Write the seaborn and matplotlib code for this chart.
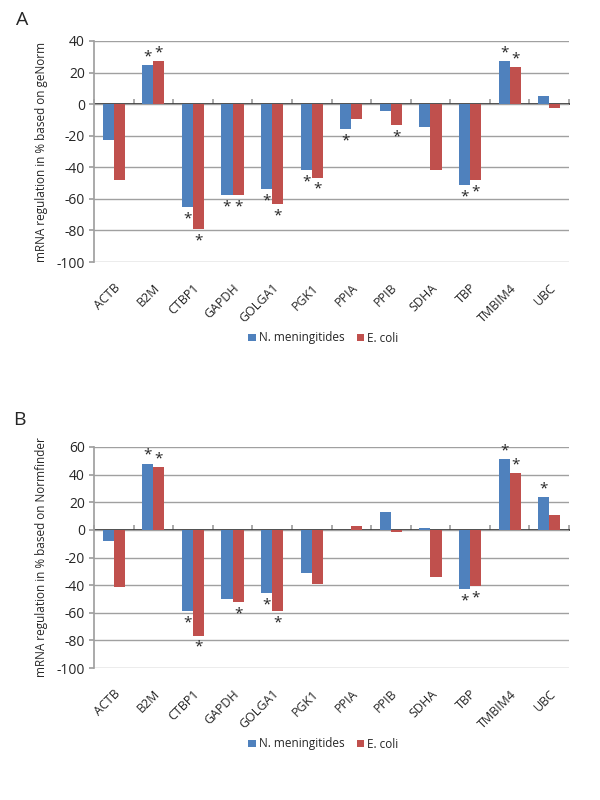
import numpy as np
import pandas as pd
import matplotlib
matplotlib.use("Agg")
import matplotlib.pyplot as plt
import seaborn as sns

genes = ["ACTB", "B2M", "CTBP1", "GAPDH", "GOLGA1", "PGK1", "PPIA", "PPIB",
         "SDHA", "TBP", "TMBIM4", "UBC"]
series_names = ["N. meningitides", "E. coli"]

a_nm = [-22.5, 24.5, -65, -57.5, -54, -42, -16, -4.5, -14.5, -51.5, 27.5, 5]
a_ec = [-48, 27.5, -79, -57.5, -63.5, -46.5, -9.5, -13.5, -42, -48, 23.5, -2.5]
a_star_nm = [0, 1, 1, 1, 1, 1, 1, 0, 0, 1, 1, 0]
a_star_ec = [0, 1, 1, 1, 1, 1, 0, 1, 0, 1, 1, 0]

b_nm = [-8, 48, -58.5, -50, -45.5, -31, 0, 13, 1.5, -42.5, 51.5, 24]
b_ec = [-41, 45.5, -76.5, -52, -59, -39, 3, -1.5, -34, -40.5, 41, 10.5]
b_star_nm = [0, 1, 1, 0, 1, 0, 0, 0, 0, 1, 1, 1]
b_star_ec = [0, 1, 1, 1, 1, 0, 0, 0, 0, 1, 1, 0]

colors = ["#4F81BD", "#C0504D"]

sns.set_theme(style="white")
plt.rcParams['font.family'] = ['Open Sans', 'DejaVu Sans']
plt.rcParams['axes.unicode_minus'] = False

fig = plt.figure(figsize=(6, 8), dpi=100)
GRAY = "#a0a0a0"


def panel(rect, nm, ec, snm, sec, ymin, ymax, ylabel, letter, letter_pos, legend_y):
    ax = fig.add_axes(rect)
    df = pd.DataFrame({
        "gene": genes * 2,
        "series": [series_names[0]] * len(genes) + [series_names[1]] * len(genes),
        "value": list(nm) + list(ec),
    })
    sns.barplot(data=df, x="gene", y="value", hue="series", order=genes,
                hue_order=series_names, palette=colors, width=0.56, saturation=1,
                edgecolor="none", ax=ax, legend=True)
    ax.set_ylim(ymin, ymax)
    ax.set_xlim(-0.5, len(genes) - 0.5)
    ax.set_yticks(np.arange(ymin, ymax + 1, 20))
    ax.yaxis.grid(True, color=GRAY, linewidth=1.0)
    ax.set_axisbelow(True)
    for s in ["top", "right", "bottom"]:
        ax.spines[s].set_visible(False)
    ax.spines["left"].set_color(GRAY)
    ax.tick_params(axis="y", labelsize=10, length=3.5, color=GRAY, direction="out", left=True, pad=3)
    ax.tick_params(axis="x", labelsize=9, length=0, pad=14)
    for lab in ax.get_xticklabels():
        lab.set_rotation(45)
        lab.set_ha("right")
        lab.set_va("top")
        lab.set_rotation_mode("anchor")
    ax.set_xlabel("")
    ax.set_ylabel(ylabel, fontsize=8.5, labelpad=6)

    # zero axis with category boundary ticks
    zero_frac = (0 - ymin) / (ymax - ymin)
    sec_ax = ax.secondary_xaxis(zero_frac)
    sec_ax.set_xticks(np.arange(-0.5, len(genes), 1))
    sec_ax.set_xticklabels([])
    sec_ax.tick_params(axis="x", length=3.5, color=GRAY, direction="out")
    sec_ax.spines["bottom"].set_color(GRAY)

    # stars
    span = ymax - ymin
    for cont, stars in zip(ax.containers, [snm, sec]):
        for bar, st in zip(cont.patches, stars):
            if not st:
                continue
            h = bar.get_height()
            xc = bar.get_x() + bar.get_width() / 2
            if h >= 0:
                ax.text(xc, h + span * 0.003, "*", ha="center", va="bottom", fontsize=11)
            else:
                ax.text(xc, h - span * 0.02, "*", ha="center", va="top", fontsize=11)

    ax.legend(loc="center", bbox_to_anchor=(0.539, legend_y), bbox_transform=fig.transFigure,
              ncol=2, frameon=False, fontsize=8.5, handlelength=0.6, handleheight=0.6,
              handletextpad=0.3, columnspacing=1.0)
    fig.text(letter_pos[0], letter_pos[1], letter, fontsize=14, ha="left", va="center")
    return ax


panel([0.1567, 0.6725, 0.7917, 0.27625], a_nm, a_ec, a_star_nm, a_star_ec, -100, 40,
      "mRNA regulation in % based on geNorm", "A", (0.027, 0.975), 0.5775)
panel([0.1567, 0.165, 0.7917, 0.27625], b_nm, b_ec, b_star_nm, b_star_ec, -100, 60,
      "mRNA regulation in % based on Normfinder", "B", (0.022, 0.475), 0.07)

fig.savefig("out.png", dpi=100)
